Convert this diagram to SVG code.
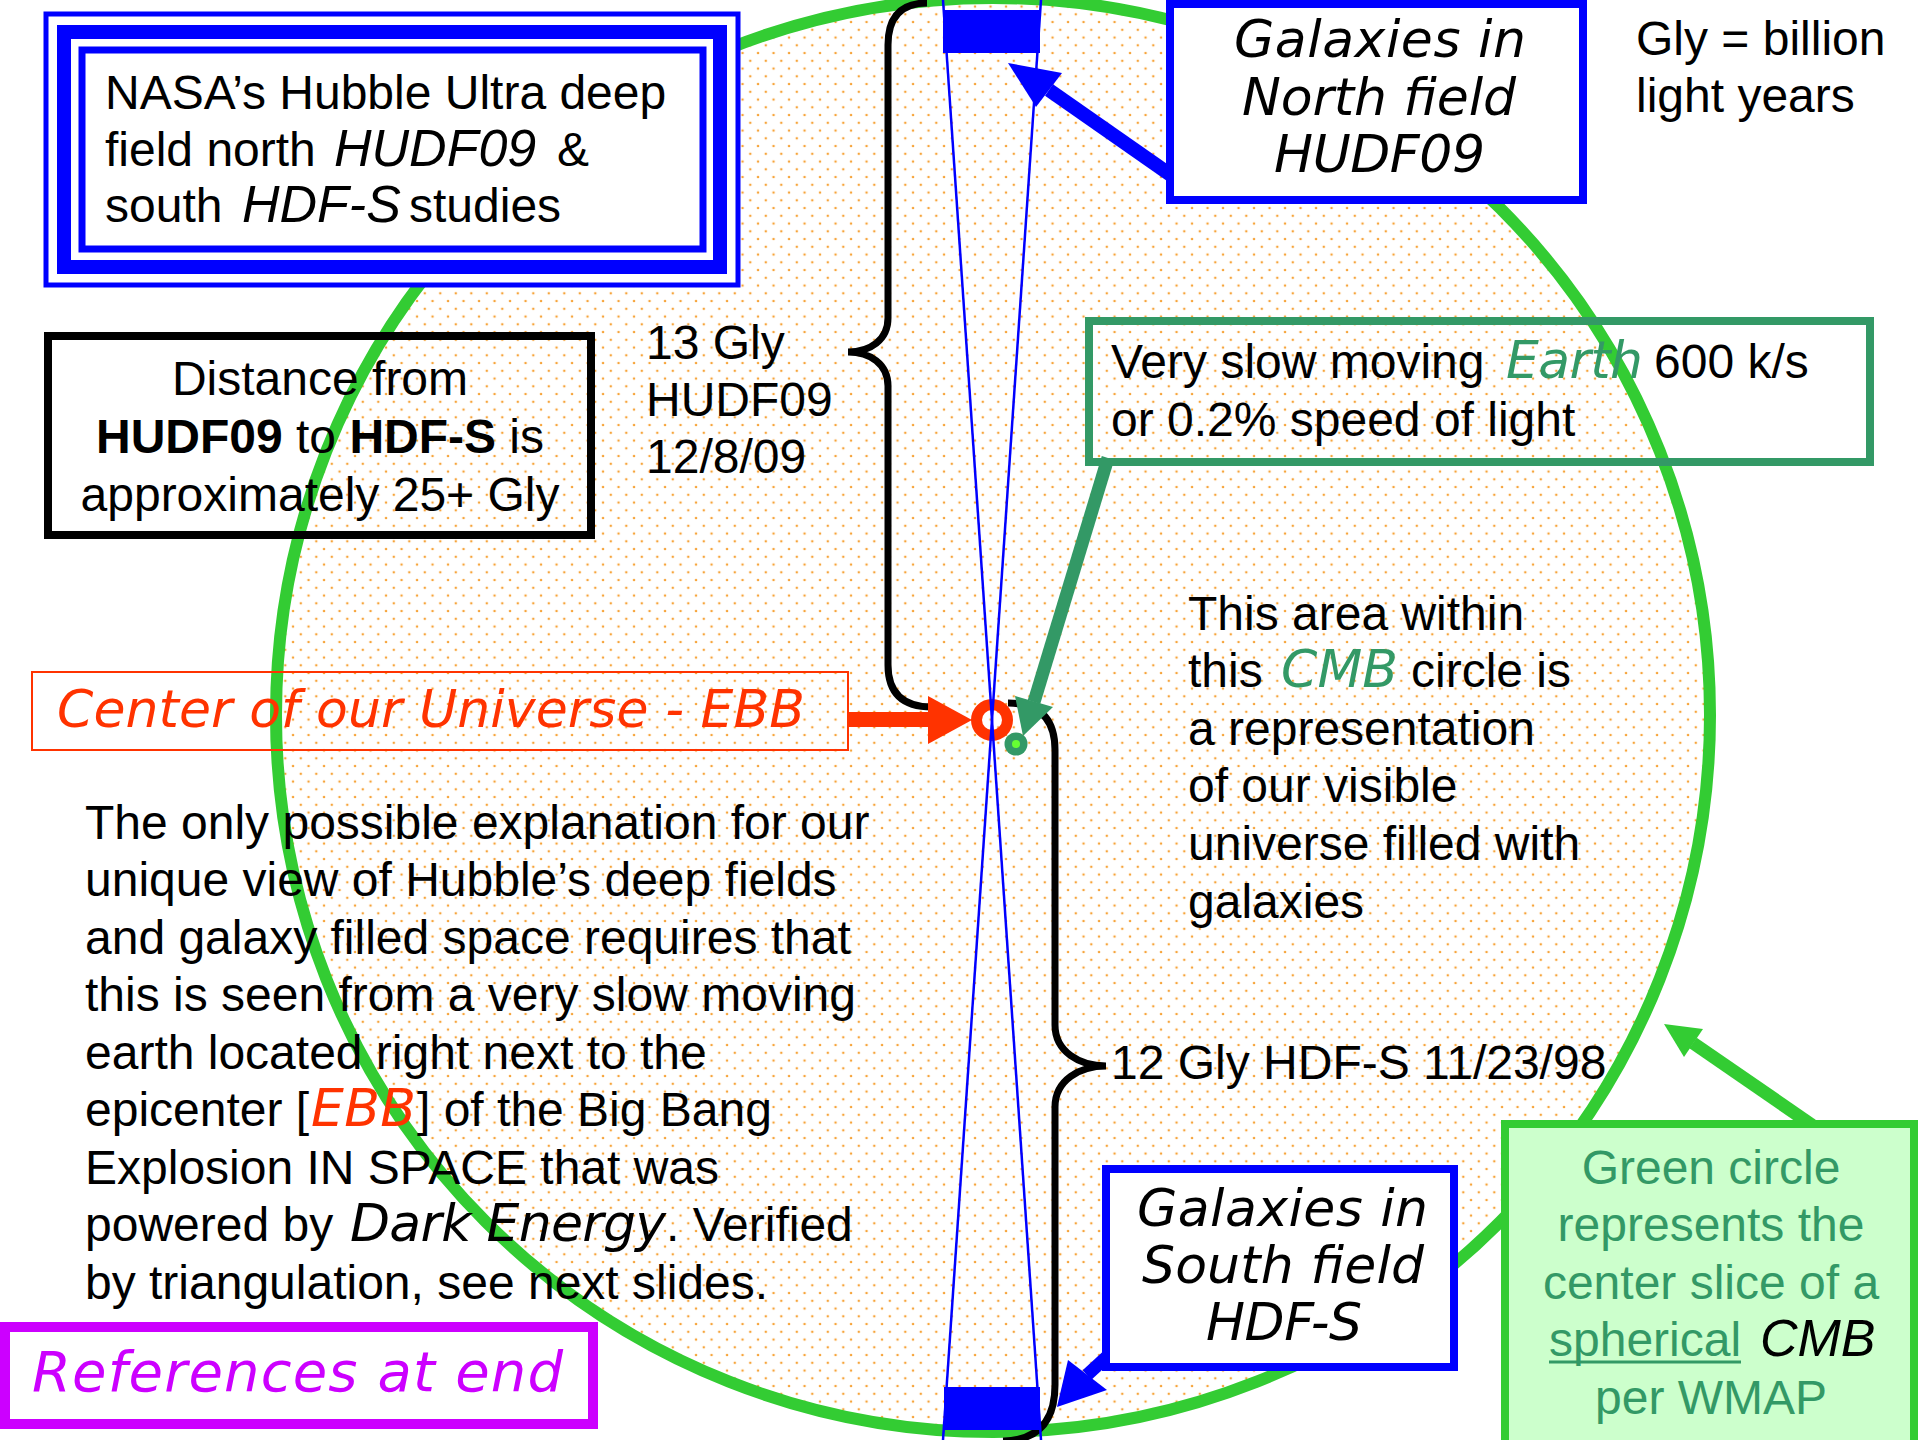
<svg xmlns="http://www.w3.org/2000/svg" width="1920" height="1440" viewBox="0 0 1920 1440">
<defs>
<pattern id="dots" patternUnits="userSpaceOnUse" x="6.3" y="14.3" width="15.5" height="15.5">
<circle cx="0" cy="0" r="1.3" fill="#F6A43A"/>
<circle cx="15.5" cy="0" r="1.3" fill="#F6A43A"/>
<circle cx="0" cy="15.5" r="1.3" fill="#F6A43A"/>
<circle cx="15.5" cy="15.5" r="1.3" fill="#F6A43A"/>
<circle cx="7.75" cy="7.75" r="1.3" fill="#F6A43A"/>
</pattern>
<style>
.t{font-family:"Liberation Sans",Arial,Helvetica,sans-serif;font-size:48px;fill:#000}
.v{font-family:"DejaVu Sans",Verdana,sans-serif;font-style:italic;font-size:52px}
.i{font-style:italic;font-size:52px}
.brace{fill:none;stroke:#000;stroke-width:7;stroke-linecap:butt}
</style>
</defs>
<rect width="1920" height="1440" fill="#fff"/>

<g id="cmb-circle">
<circle cx="993" cy="715" r="717" fill="#fff"/>
<circle cx="993" cy="715" r="717" fill="url(#dots)" stroke="#33CC33" stroke-width="12"/>
</g>

<g id="braces">
<path class="brace" d="M927 3 Q888 3 888 45 L888 318 C888 340 870 352 848 352 C870 352 888 364 888 386 L888 665 Q888 707 932 707"/>
<path class="brace" d="M1008 703 Q1055 703 1055 750 L1055 1025 C1055 1052 1080 1066 1106 1066 C1080 1066 1055 1080 1055 1107 L1055 1385 Q1055 1440 1003 1441"/>
</g>

<g id="ebb-center">
<circle cx="992" cy="720" r="15.5" fill="none" stroke="#FF3300" stroke-width="11"/>
</g>
<g id="earth">
<circle cx="1016" cy="744" r="11.5" fill="#339966"/>
<circle cx="1016" cy="744" r="4" fill="#66FF33"/>
</g>

<g id="sightlines" stroke="#0000FF" stroke-width="2.5">
<line x1="943" y1="0" x2="1041" y2="1440"/>
<line x1="1041" y1="0" x2="943" y2="1440"/>
</g>
<rect id="north-field" x="943" y="10" width="97" height="43" fill="#0000FF"/>
<rect id="south-field" x="944" y="1387" width="96" height="43" fill="#0000FF"/>

<g id="connectors">
<rect x="849" y="712" width="82" height="15" fill="#FF3300"/>
<polygon points="928,696 972,720 928,744" fill="#FF3300"/>
<line x1="1034" y1="702" x2="1108" y2="458" stroke="#339966" stroke-width="13"/>
<polygon points="1023,736 1015,696 1053,707" fill="#339966"/>
<line x1="1049" y1="90" x2="1175" y2="178" stroke="#0000FF" stroke-width="14"/>
<polygon points="1008,63 1062,73 1036,107" fill="#0000FF"/>
<line x1="1087" y1="1375" x2="1124" y2="1341" stroke="#0000FF" stroke-width="13"/>
<polygon points="1057,1407 1068,1360 1107,1390" fill="#0000FF"/>
<line x1="1693" y1="1043" x2="1812" y2="1125" stroke="#33CC33" stroke-width="13"/>
<polygon points="1664,1024 1703,1029 1684,1057" fill="#33CC33"/>
</g>

<g id="nasa-box">
<rect x="46" y="14" width="692" height="271" fill="#fff" stroke="#0000FF" stroke-width="5"/>
<rect x="64" y="32" width="656" height="235" fill="none" stroke="#0000FF" stroke-width="14"/>
<rect x="82" y="50" width="621" height="199" fill="none" stroke="#0000FF" stroke-width="7"/>
<text class="t" x="105" y="109">NASA’s Hubble Ultra deep</text>
<text class="t" x="105" y="166">field north <tspan class="i" x="334">HUDF09</tspan><tspan x="557">&amp;</tspan></text>
<text class="t" x="105" y="222">south <tspan class="i" x="242">HDF-S</tspan><tspan x="409">studies</tspan></text>
</g>

<g id="distance-box">
<rect x="48" y="336" width="543" height="199" fill="none" stroke="#000" stroke-width="8"/>
<text class="t" x="320" y="395" text-anchor="middle">Distance from</text>
<text class="t" x="320" y="453" text-anchor="middle"><tspan font-weight="bold">HUDF09</tspan> to <tspan font-weight="bold">HDF-S</tspan> is</text>
<text class="t" x="320" y="511" text-anchor="middle">approximately 25+ Gly</text>
</g>

<g id="north-label">
<text class="t" x="646" y="359">13 Gly</text>
<text class="t" x="646" y="416">HUDF09</text>
<text class="t" x="646" y="473">12/8/09</text>
</g>

<g id="north-box">
<rect x="1170" y="4" width="413" height="196" fill="#fff" stroke="#0000FF" stroke-width="8"/>
<text class="v" x="1234" y="57" textLength="292" lengthAdjust="spacing">Galaxies in</text>
<text class="v" x="1242" y="115" textLength="274" lengthAdjust="spacing">North field</text>
<text class="v" x="1274" y="172" textLength="211" lengthAdjust="spacing">HUDF09</text>
</g>

<g id="gly-note">
<text class="t" x="1636" y="55">Gly = billion</text>
<text class="t" x="1636" y="112">light years</text>
</g>

<g id="earth-box">
<rect x="1089" y="321" width="781" height="141" fill="none" stroke="#339966" stroke-width="8"/>
<text class="t" x="1111" y="378">Very slow moving </text>
<text class="v" x="1506" y="378" fill="#339966" textLength="137" lengthAdjust="spacing">Earth</text>
<text class="t" x="1654" y="378">600 k/s</text>
<text class="t" x="1111" y="436">or 0.2% speed of light</text>
</g>

<g id="center-box">
<rect x="32" y="672" width="816" height="78" fill="none" stroke="#FF3300" stroke-width="2"/>
<text class="v" x="57" y="727" fill="#FF3300" textLength="748" lengthAdjust="spacing">Center of our Universe - EBB</text>
</g>

<g id="area-text">
<text class="t" x="1188" y="630">This area within</text>
<text class="t" x="1188" y="687">this </text>
<text class="v" x="1281" y="687" fill="#339966" textLength="117" lengthAdjust="spacing">CMB</text>
<text class="t" x="1411" y="687">circle is</text>
<text class="t" x="1188" y="745">a representation</text>
<text class="t" x="1188" y="802">of our visible</text>
<text class="t" x="1188" y="860">universe filled with</text>
<text class="t" x="1188" y="918">galaxies</text>
</g>

<g id="explanation">
<text class="t" x="85" y="839">The only possible explanation for our</text>
<text class="t" x="85" y="896">unique view of Hubble’s deep fields</text>
<text class="t" x="85" y="954">and galaxy filled space requires that</text>
<text class="t" x="85" y="1011">this is seen from a very slow moving</text>
<text class="t" x="85" y="1069">earth located right next to the</text>
<text class="t" x="85" y="1126">epicenter [</text>
<text class="v" x="311" y="1126" fill="#FF3300" textLength="105" lengthAdjust="spacing">EBB</text>
<text class="t" x="417" y="1126">] of the Big Bang</text>
<text class="t" x="85" y="1184">Explosion IN SPACE that was</text>
<text class="t" x="85" y="1241">powered by </text>
<text class="v" x="350" y="1241" textLength="316" lengthAdjust="spacing">Dark Energy</text>
<text class="t" x="666" y="1241">. Verified</text>
<text class="t" x="85" y="1299">by triangulation, see next slides.</text>
</g>

<g id="south-label">
<text class="t" x="1111" y="1079">12 Gly HDF-S 11/23/98</text>
</g>

<g id="south-box">
<rect x="1106" y="1169" width="348" height="198" fill="#fff" stroke="#0000FF" stroke-width="8"/>
<text class="v" x="1137" y="1226" textLength="291" lengthAdjust="spacing">Galaxies in</text>
<text class="v" x="1142" y="1283" textLength="282" lengthAdjust="spacing">South field</text>
<text class="v" x="1206" y="1340" textLength="156" lengthAdjust="spacing">HDF-S</text>
</g>

<g id="references-box">
<rect x="5" y="1327" width="588" height="97" fill="#fff" stroke="#CC00FF" stroke-width="10"/>
<text class="v" x="32" y="1391" fill="#CC00FF" style="font-size:56px" textLength="531" lengthAdjust="spacing">References at end</text>
</g>

<g id="wmap-box">
<rect x="1505" y="1124" width="409" height="330" fill="#CCFFCC" stroke="#33CC33" stroke-width="8"/>
<text class="t" x="1711" y="1184" text-anchor="middle" style="fill:#339966">Green circle</text>
<text class="t" x="1711" y="1241" text-anchor="middle" style="fill:#339966">represents the</text>
<text class="t" x="1711" y="1299" text-anchor="middle" style="fill:#339966">center slice of a</text>
<text class="t" x="1549" y="1356" style="fill:#339966">spherical</text>
<line x1="1549" y1="1362" x2="1741" y2="1362" stroke="#339966" stroke-width="3"/>
<text class="t i" x="1760" y="1356">CMB</text>
<text class="t" x="1711" y="1414" text-anchor="middle" style="fill:#339966">per WMAP</text>
</g>
</svg>
